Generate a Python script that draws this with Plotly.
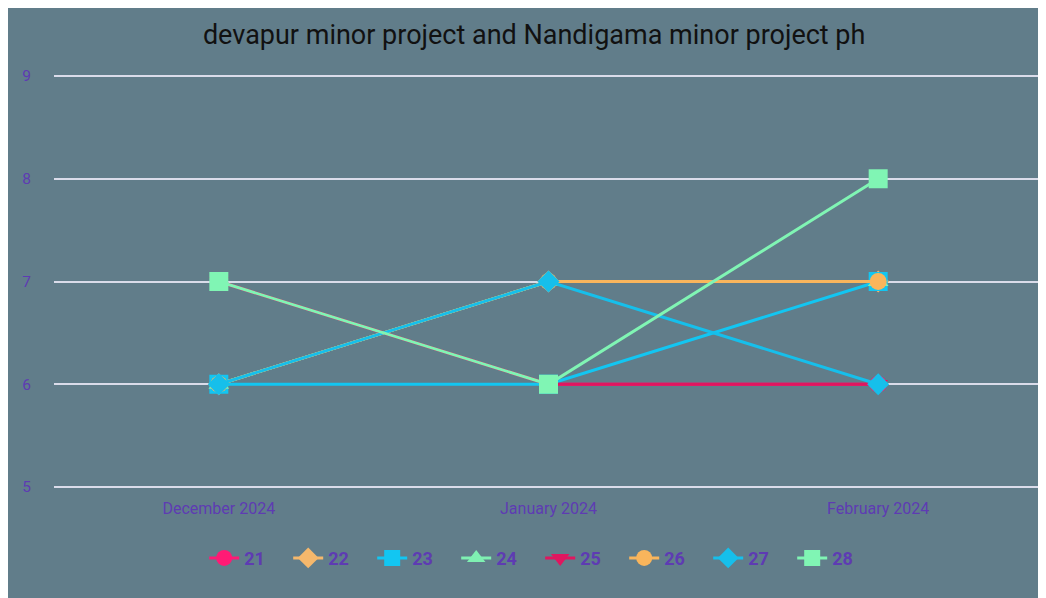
import plotly.graph_objects as go

months = ["December 2024", "January 2024", "February 2024"]
series_names = ["21", "22", "23", "24", "25", "26", "27", "28"]
s21 = [7, 6, 6]
s22 = [6, 7, 7]
s23 = [6, 6, 7]
s24 = [6, 7, 7]
s25 = [7, 6, 6]
s26 = [6, 7, 7]
s27 = [6, 7, 6]
s28 = [7, 6, 8]
values = [s21, s22, s23, s24, s25, s26, s27, s28]
colors = ["#ff1a75", "#f5b86c", "#12c6f2", "#7ff0b2", "#e0165f", "#f9b55c", "#16bfeb", "#80f5b4"]
symbols = ["circle", "diamond", "square", "triangle-up", "triangle-down", "circle", "diamond", "square"]
sizes = [17, 17, 19, 18, 17, 17, 17, 19]

fig = go.Figure()
for name, vals, c, sym, sz in zip(series_names, values, colors, symbols, sizes):
    fig.add_trace(go.Scatter(
        x=months, y=vals, name=name, mode="lines+markers",
        line=dict(color=c, width=3),
        marker=dict(symbol=sym, size=sz, color=c),
    ))

txt = "#5e3bb3"
fig.update_layout(
    width=1046, height=598,
    paper_bgcolor="#617d8a", plot_bgcolor="#617d8a",
    margin=dict(l=46, r=11, t=67, b=118),
    font=dict(family="Roboto, sans-serif", color=txt),
    title=dict(text="devapur minor project and Nandigama minor project ph",
               x=0.503, xanchor="center", y=0.955, yanchor="middle",
               font=dict(size=27, color="#111111", family="Roboto, sans-serif")),
    xaxis=dict(showgrid=False, zeroline=False, showline=False, range=[-0.5, 2.5],
               tickfont=dict(size=16, color=txt), ticklabelstandoff=9),
    yaxis=dict(range=[4.99, 9.01], dtick=1, showgrid=True, gridcolor="#dadcea", gridwidth=2,
               zeroline=False, showline=False, tickfont=dict(size=15.5, color=txt),
               ticklabelstandoff=22),
    legend=dict(orientation="h", x=0.4916, xanchor="center", y=-0.170, yanchor="middle",
                font=dict(size=18, color=txt, family="Roboto, sans-serif", weight="bold"),
                entrywidth=39, entrywidthmode="pixels",
                bgcolor="rgba(0,0,0,0)"),
    showlegend=True,
)
fig.write_html("out.html")
